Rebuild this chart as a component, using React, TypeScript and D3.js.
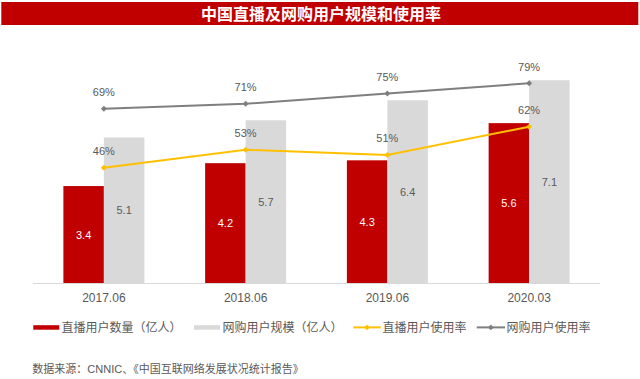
import React from "react";
import * as d3 from "d3";

const categories = ["2017.06", "2018.06", "2019.06", "2020.03"];
const liveUsers = [3.4, 4.2, 4.3, 5.6];
const shopUsers = [5.1, 5.7, 6.4, 7.1];
const liveRate = [46, 53, 51, 62];
const shopRate = [69, 71, 75, 79];
const title = "中国直播及网购用户规模和使用率";
const legendLabels = ["直播用户数量（亿人）", "网购用户规模（亿人）", "直播用户使用率", "网购用户使用率"];
const source = "数据来源：CNNIC、《中国互联网络发展状况统计报告》";

const W = 640, H = 379;
const RED = "#C00000", LGRAY = "#D9D9D9", YEL = "#FFC000", DGRAY = "#7F7F7F", TXT = "#595959";
const FONT = "'Liberation Sans', Arial, 'Noto Sans CJK SC', sans-serif";

export default function App() {
  const x = d3.scaleBand<string>().domain(categories).range([33, 600]).paddingInner(0.4286).paddingOuter(0.2143);
  const y = d3.scaleLinear().domain([0, 8]).range([283.3, 54.5]);
  const yr = d3.scaleLinear().domain([0, 100]).range([285.3, 29.6]);
  const bw = x.bandwidth() / 2;
  const cx = (c: string) => (x(c) as number) + bw;
  const line = d3.line<number>().x((_, i) => cx(categories[i])).y((d) => yr(d));
  const diamond = (px: number, py: number, r = 3) => `M${px},${py - r}L${px + r},${py}L${px},${py + r}L${px - r},${py}Z`;

  const legendItems = [
    { type: "bar", color: RED, x0: 33.3, x1: 59.3, tx: 61.5 },
    { type: "bar", color: LGRAY, x0: 194, x1: 220, tx: 222.5 },
    { type: "line", color: YEL, x0: 353.3, x1: 380.7, tx: 382.5 },
    { type: "line", color: DGRAY, x0: 476.7, x1: 505, tx: 506.5 },
  ];

  return (
    <svg width={W} height={H} style={{ position: "absolute", left: 0, top: 0, fontFamily: FONT }}>
      <rect x={0} y={0} width={W} height={H} fill="#fff" />
      <rect x={1.3} y={2} width={637} height={23} fill={RED} />
      <text x={321} y={14} fill="#fff" fontSize={16} fontWeight="bold" textAnchor="middle" dominantBaseline="central">{title}</text>

      {categories.map((c, i) => (
        <g key={c}>
          <rect x={x(c)} y={y(liveUsers[i])} width={bw} height={y(0) - y(liveUsers[i])} fill={RED} />
          <rect x={cx(c)} y={y(shopUsers[i])} width={bw} height={y(0) - y(shopUsers[i])} fill={LGRAY} />
          <text x={(x(c) as number) + bw / 2} y={(y(liveUsers[i]) + y(0)) / 2} fill="#fff" fontSize={11} textAnchor="middle" dominantBaseline="central">{liveUsers[i].toFixed(1)}</text>
          <text x={cx(c) + bw / 2} y={(y(shopUsers[i]) + y(0)) / 2} fill={TXT} fontSize={11} textAnchor="middle" dominantBaseline="central">{shopUsers[i].toFixed(1)}</text>
          <text x={cx(c)} y={298.3} fill={TXT} fontSize={12} textAnchor="middle" dominantBaseline="central">{c}</text>
        </g>
      ))}
      <line x1={33} x2={600} y1={283.5} y2={283.5} stroke={LGRAY} strokeWidth={1} />

      <path d={line(shopRate) || ""} fill="none" stroke={DGRAY} strokeWidth={2} />
      <path d={line(liveRate) || ""} fill="none" stroke={YEL} strokeWidth={2} />
      {categories.map((c, i) => (
        <g key={"m" + c}>
          <path d={diamond(cx(c), yr(shopRate[i]))} fill={DGRAY} />
          <path d={diamond(cx(c), yr(liveRate[i]))} fill={YEL} />
          <text x={cx(c)} y={yr(shopRate[i]) - 16.5} fill={TXT} fontSize={11} textAnchor="middle" dominantBaseline="central">{shopRate[i]}%</text>
          <text x={cx(c)} y={yr(liveRate[i]) - 16.5} fill={TXT} fontSize={11} textAnchor="middle" dominantBaseline="central">{liveRate[i]}%</text>
        </g>
      ))}

      {legendItems.map((it, i) => (
        <g key={"l" + i}>
          {it.type === "bar" ? (
            <rect x={it.x0} y={325.2} width={it.x1 - it.x0} height={4.5} fill={it.color} />
          ) : (
            <g>
              <line x1={it.x0} x2={it.x1} y1={327.4} y2={327.4} stroke={it.color} strokeWidth={2} />
              <path d={diamond((it.x0 + it.x1) / 2, 327.4, 2.8)} fill={it.color} />
            </g>
          )}
          <text x={it.tx} y={327.5} fill={TXT} fontSize={12} dominantBaseline="central">{legendLabels[i]}</text>
        </g>
      ))}

      <text x={32.3} y={369.3} fill={TXT} fontSize={11} dominantBaseline="central">{source}</text>
    </svg>
  );
}
